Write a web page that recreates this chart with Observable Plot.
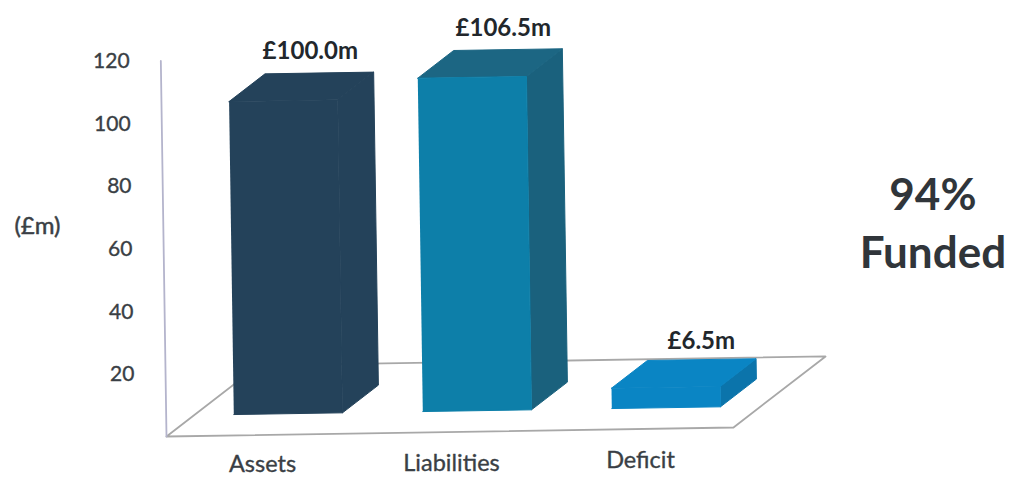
<!DOCTYPE html>
<html>
<head>
<meta charset="utf-8">
<script src="https://cdn.jsdelivr.net/npm/d3@7"></script>
<script src="https://cdn.jsdelivr.net/npm/@observablehq/plot@0.6"></script>
<style>
html,body{margin:0;padding:0;background:#fff;overflow:hidden}
svg{display:block}
</style>
</head>
<body>
<div id="chart"></div>
<script>
const categories = ["Assets", "Liabilities", "Deficit"];
const values = [100, 106.5, 6.5];
const valueLabels = ["£100.0m", "£106.5m", "£6.5m"];
const yTicks = [20, 40, 60, 80, 100, 120];
const frontColors = ["#24425a", "#0d7fa9", "#0a85c4"];
const topColors = ["#24425a", "#1c6683", "#0a85c4"];
const sideColors = ["#24425a", "#1a617d", "#0b74ab"];
const fundedLines = ["94%", "Funded"];

// Oblique projection: category position p, value v, depth d -> scale coordinates
const P = (p, v, d) => ({
  x: p + d * 0.487 - v * 0.00025,
  y: v + d * 22.7 + p * 0.96
});

const barStart = 0.21, barWidth = 0.575, d0 = 0.30, d1 = 0.69;
const faces = [];
function face(id, color, corners) {
  for (const c of corners) faces.push({id, color, ...P(...c)});
}
values.forEach((v, i) => {
  const a = barStart + i, b = a + barWidth;
  face(i + "-side", sideColors[i], [[b, 0, d0], [b, 0, d1], [b, v, d1], [b, v, d0]]);
  face(i + "-top", topColors[i], [[a, v, d0], [a, v, d1], [b, v, d1], [b, v, d0]]);
  face(i + "-front", frontColors[i], [[a, 0, d0], [b, 0, d0], [b, v, d0], [a, v, d0]]);
});

const floor = [[0,0,0],[3,0,0],[3,0,1],[0,0,1],[0,0,0]].map(c => P(...c));
const axisLine = [[0,0,0],[0,120,0]].map(c => P(...c));
const centre = i => barStart + i + barWidth / 2;
const font = "Lato, Carlito, sans-serif";
const ink = "#3a3f45";

const plot = Plot.plot({
  width: 1009,
  height: 477,
  margin: 0,
  style: {background: "#fff", fontFamily: font},
  x: {domain: [-166 / 189, 843 / 189], range: [0, 1009], axis: null},
  y: {domain: [-41 / 3.13, 436 / 3.13], range: [477, 0], axis: null},
  color: {type: "identity"},
  marks: [
    Plot.line(floor, {x: "x", y: "y", stroke: "#a8a8a8", strokeWidth: 1.8}),
    Plot.line(axisLine, {x: "x", y: "y", stroke: "#b4b4cc", strokeWidth: 1.8}),
    Plot.line(faces, {x: "x", y: "y", z: "id", fill: "color", stroke: "color", strokeWidth: 1}),
    Plot.text(yTicks, {
      x: v => P(-0.165, v, 0).x, y: v => P(-0.165, v, 0).y, text: d => String(d),
      textAnchor: "end", fontSize: 21, fill: ink, stroke: ink, strokeWidth: 0.35
    }),
    Plot.text(["(£m)"], {
      x: () => -0.683, y: () => 67.3, text: d => d,
      fontSize: 24, fill: ink, stroke: ink, strokeWidth: 0.5
    }),
    Plot.text(values, {
      x: (v, i) => P(centre(i), v, 0.5).x + (8.5 + 4.3 * i) / 189,
      y: (v, i) => P(centre(i), v, 0.5).y + (i === 2 ? -0.6 : 0.3), dy: -34,
      text: (v, i) => valueLabels[i],
      fontSize: 24, fontWeight: 700, fill: "#22272c"
    }),
    Plot.text(categories, {
      x: (c, i) => P(centre(i), -10, 0).x,
      y: (c, i) => P(centre(i), -10, 0).y + (i === 0 ? 0.5 : 0),
      dx: 1.5,
      text: d => d, fontSize: 23.5, fill: ink, stroke: ink, strokeWidth: 0.35
    }),
    Plot.text(fundedLines, {
      x: () => 4.055, y: (d, i) => [77, 58.2][i], text: d => d,
      fontSize: 44, fontWeight: 700, fill: "#30353a"
    })
  ]
});
document.getElementById("chart").append(plot);
</script>
</body>
</html>
